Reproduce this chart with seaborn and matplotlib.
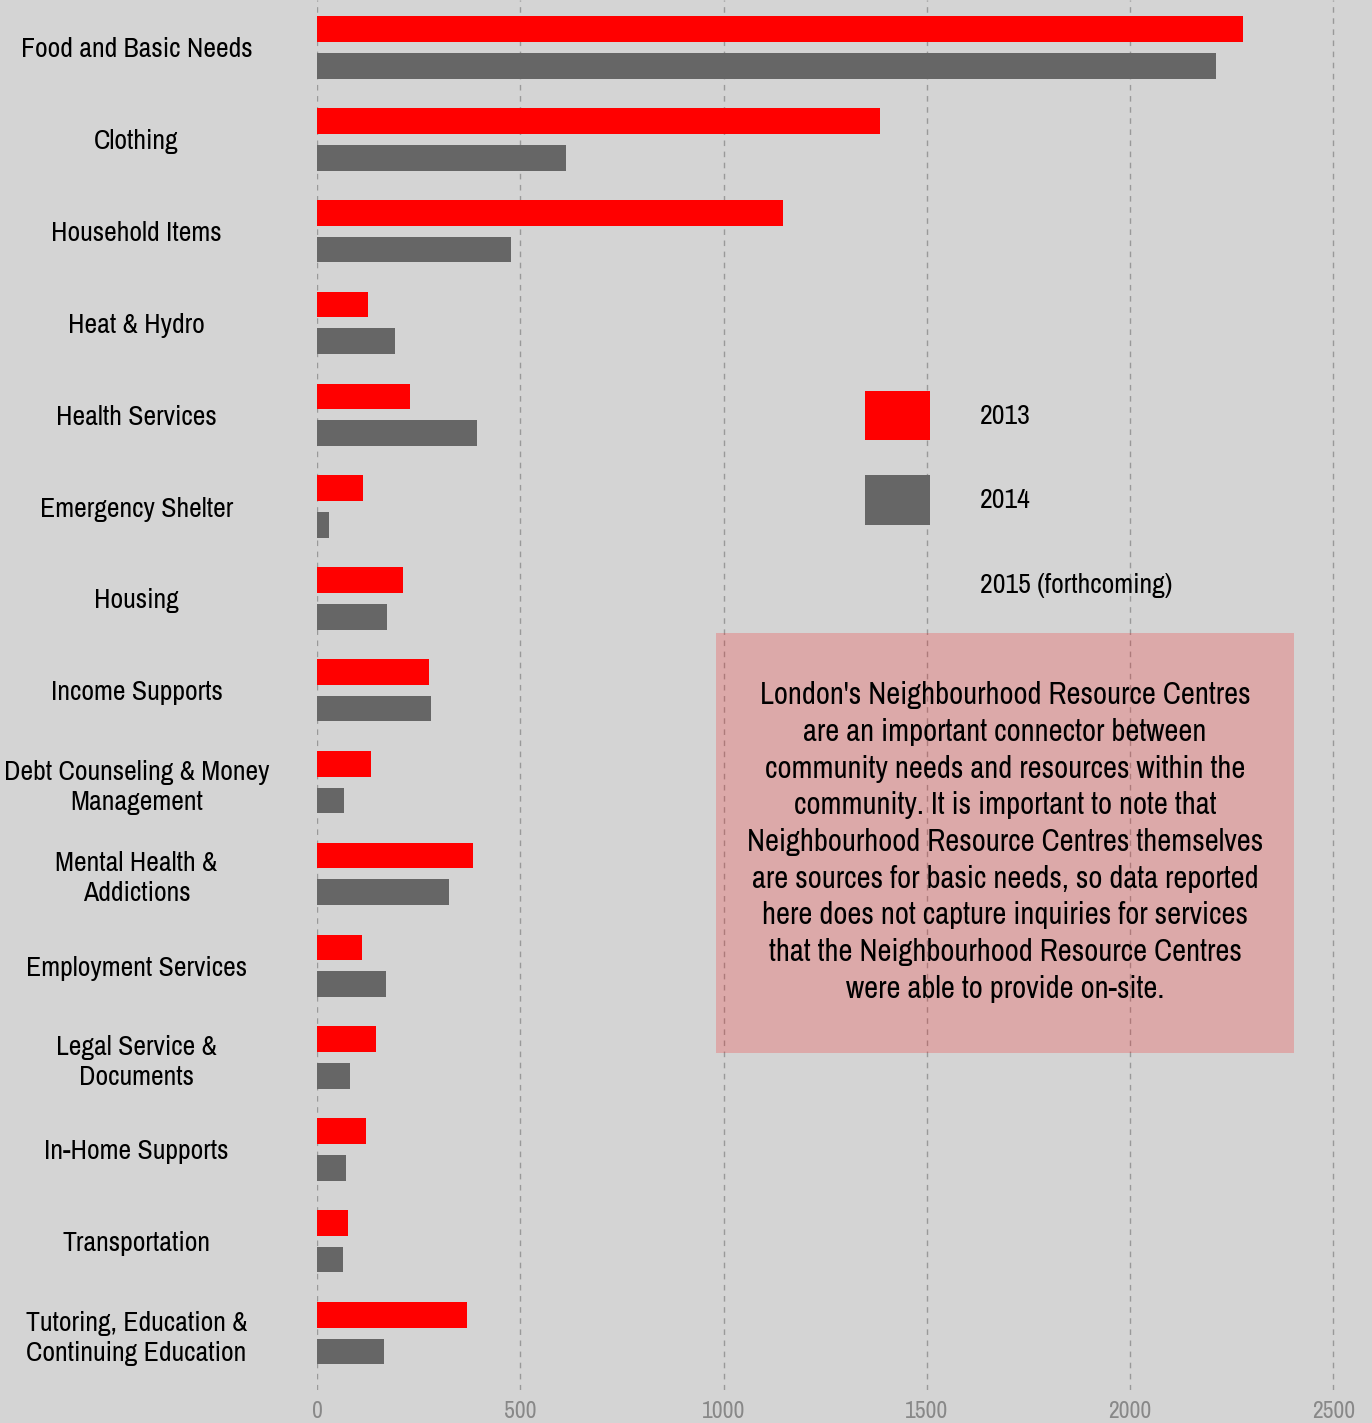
import pandas as pd
import matplotlib.pyplot as plt
import matplotlib.patches as mpatches
from matplotlib import font_manager
import seaborn as sns

# Dados
categorias = [
    "Food and Basic Needs", "Clothing", "Household Items", "Heat & Hydro",
    "Health Services", "Emergency Shelter", "Housing", "Income Supports",
    "Debt Counseling & Money\nManagement", "Mental Health &\nAddictions",
    "Employment Services", "Legal Service &\nDocuments", "In-Home Supports",
    "Transportation", "Tutoring, Education &\nContinuing Education",
]
valores_2013 = [2278, 1385, 1146, 125, 229, 113, 212, 276, 133, 384, 111, 145, 121, 76, 369]
valores_2014 = [2212, 612, 477, 192, 394, 30, 172, 280, 66, 325, 170, 81, 71, 64, 165]
anos = ["2013", "2014"]
cores = ["#ff0000", "#666666"]

texto_caixa = ("London's Neighbourhood Resource Centres\n"
               "are an important connector between\n"
               "community needs and resources within the\n"
               "community. It is important to note that\n"
               "Neighbourhood Resource Centres themselves\n"
               "are sources for basic needs, so data reported\n"
               "here does not capture inquiries for services\n"
               "that the Neighbourhood Resource Centres\n"
               "were able to provide on-site.")

df = pd.DataFrame({
    "categoria": categorias * 2,
    "valor": valores_2013 + valores_2014,
    "ano": ["2013"] * len(categorias) + ["2014"] * len(categorias),
})

# Configurações estéticas
sns.set_theme(style="white")

# Procura uma fonte condensada instalada
fonte, largura = "DejaVu Sans", "normal"
for f in font_manager.fontManager.ttflist:
    if f.style != "normal" or f.weight not in (400, "normal", "regular"):
        continue
    if "Narrow" in f.name or "Condensed" in f.name:
        fonte, largura = f.name, f.stretch
        break
    if f.stretch in ("condensed", "semi-condensed", "extra-condensed") and fonte == "DejaVu Sans":
        fonte, largura = f.name, f.stretch
print("fonte:", fonte, largura)
plt.rcParams["font.family"] = [fonte, "DejaVu Sans"]
plt.rcParams["font.stretch"] = largura
condensada = fonte != "DejaVu Sans" or largura != "normal"
tam_rotulo = 20 if condensada else 15
tam_caixa = 22 if condensada else 16
tam_legenda = 20 if condensada else 15
tam_tick = 17 if condensada else 13

fundo = "#d4d4d4"
fig = plt.figure(figsize=(13.72, 14.23), dpi=100, facecolor=fundo)
ax = fig.add_axes([317 / 1372, 1 - 1390 / 1423, (1372 - 317) / 1372, 1390 / 1423])
ax.set_facecolor(fundo)

sns.barplot(data=df, y="categoria", x="valor", hue="ano", hue_order=anos,
            palette=cores, saturation=1, orient="h", width=0.8, gap=0.3,
            linewidth=0, legend=False, ax=ax)

ax.set_xlim(0, 2595)
ax.set_ylim(14.62, -0.517)
ax.set_xticks([0, 500, 1000, 1500, 2000, 2500])
ax.grid(axis="x", color="#999999", linestyle=(0, (4, 4)), linewidth=1)
ax.grid(axis="y", visible=False)
ax.set_axisbelow(True)
for s in ax.spines.values():
    s.set_visible(False)
ax.set_xlabel("")
ax.set_ylabel("")
ax.tick_params(axis="x", length=0, pad=8, labelsize=tam_tick, labelcolor="#888888")
ax.tick_params(axis="y", length=0, pad=130, labelsize=tam_rotulo, labelcolor="black")
for lbl in ax.get_yticklabels():
    lbl.set_ha("center")
    lbl.set_multialignment("center")
    lbl.set_linespacing(1.25)

# Legenda
handles = [mpatches.Rectangle((0, 0), 1, 1, facecolor=cores[0], edgecolor="none"),
           mpatches.Rectangle((0, 0), 1, 1, facecolor=cores[1], edgecolor="none"),
           mpatches.Rectangle((0, 0), 1, 1, facecolor="none", edgecolor="none")]
fig.legend(handles, ["2013", "2014", "2015 (forthcoming)"], loc="upper left",
           bbox_to_anchor=(865 / 1372, 1 - 391 / 1423), bbox_transform=fig.transFigure,
           frameon=False, fontsize=tam_legenda, handlelength=2.34, handleheight=2.36,
           handletextpad=1.8, labelspacing=1.25, borderpad=0, borderaxespad=0,
           labelcolor="black")

# Caixa de texto
caixa = mpatches.Rectangle((716 / 1372, 1 - 1053 / 1423), 578 / 1372, 420 / 1423,
                           transform=fig.transFigure, facecolor="#ff0000",
                           alpha=0.2, edgecolor="none", zorder=1)
fig.patches.append(caixa)
fig.text(1005 / 1372, 1 - 842 / 1423, texto_caixa, ha="center", va="center",
         multialignment="center", fontsize=tam_caixa, linespacing=1.38, zorder=2,
         color="black")

fig.savefig("out.png", dpi=100, facecolor=fundo)
